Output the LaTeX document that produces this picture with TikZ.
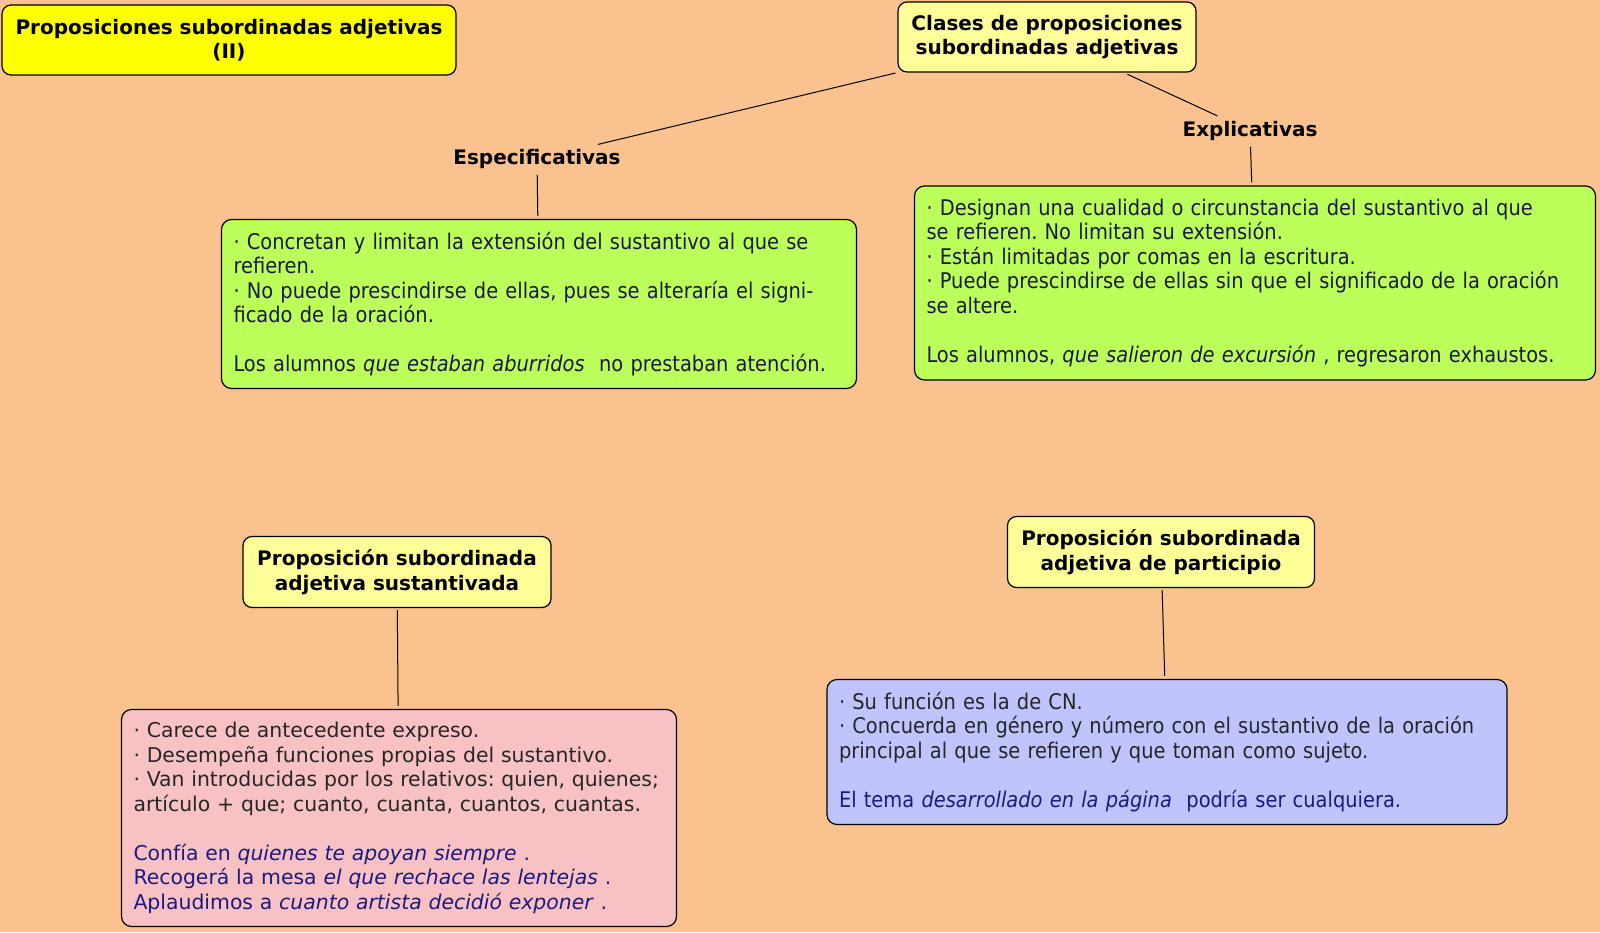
\documentclass[tikz,border=0pt]{standalone}
\usepackage{fontspec}
\setmainfont{DejaVu Sans}
\newfontfamily\narrowfont{DejaVu Sans Condensed}
\usetikzlibrary{positioning}
\frenchspacing
\hyphenpenalty=10000
\definecolor{MapPeach}{HTML}{FAC28E}
\definecolor{MapYellow}{HTML}{FFFF00}
\definecolor{MapPaleYellow}{HTML}{FFFF99}
\definecolor{MapLime}{HTML}{BDFF5A}
\definecolor{MapPink}{HTML}{F8C2C4}
\definecolor{MapBlue}{HTML}{BFC4FC}
\definecolor{MapNavy}{HTML}{1A1A80}
\definecolor{MapInk}{HTML}{1A1A40}

\begin{document}
\begin{tikzpicture}[x=1pt,y=-1pt,
 headbox/.style={draw=black,line width=1.2pt,rounded corners=9pt,fill=MapPaleYellow,align=center,inner sep=0pt,font=\bfseries\fontsize{20}{24.5}\selectfont},
 tagtext/.style={inner sep=4pt,font=\bfseries\fontsize{20}{24.5}\selectfont},
 notebox/.style={draw=black,line width=1.2pt,rounded corners=10pt,align=left,inner xsep=12pt,inner ysep=0pt},
 narrowtext/.style={font=\narrowfont\fontsize{21.6}{24.5}\selectfont},
 link/.style={line width=1pt,shorten <=2pt,shorten >=3pt}]
\fill[MapPeach] (0,0) rectangle (1600,932);
\useasboundingbox (0,0) rectangle (1600,932);
% headings
\node[headbox,fill=MapYellow,minimum width=454,minimum height=70] (title) at (229,40) {Proposiciones subordinadas adjetivas\\(II)};
\node[headbox,minimum width=298,minimum height=70] (clases) at (1047,37) {Clases de proposiciones\\subordinadas adjetivas};
\node[tagtext] (espec) at (537,159) {Especificativas};
\node[tagtext] (explic) at (1250,131) {Explicativas};
\node[headbox,minimum width=308,minimum height=71] (sustant) at (397,572) {Proposición subordinada\\adjetiva sustantivada};
\node[headbox,minimum width=307,minimum height=71] (particip) at (1161,552) {Proposición subordinada\\adjetiva de participio};
% notes
\node[notebox,narrowtext,fill=MapLime,text width=611,minimum height=169,text=MapInk] (especnote) at (539,304) {%
· Concretan y limitan la extensión del sustantivo al que se\\refieren.\\· No puede prescindirse de ellas, pues se alteraría el signi-\\ficado de la oración.\\[24.5pt]Los alumnos \textit{que estaban aburridos}~ no prestaban atención.};
\node[notebox,narrowtext,fill=MapLime,text width=657,minimum height=194,text=MapInk] (explicnote) at (1255,283) {%
· Designan una cualidad o circunstancia del sustantivo al que\\se refieren. No limitan su extensión.\\· Están limitadas por comas en la escritura.\\· Puede prescindirse de ellas sin que el significado de la oración\\se altere.\\[24.5pt]Los alumnos, \textit{que salieron de excursión} , regresaron exhaustos.};
\node[notebox,fill=MapPink,text width=531,minimum height=217,font=\fontsize{20.4}{24.5}\selectfont,text=black!85] (sustnote) at (399,818) {%
· Carece de antecedente expreso.\\· Desempeña funciones propias del sustantivo.\\· Van introducidas por los relativos: quien, quienes;\\artículo + que; cuanto, cuanta, cuantos, cuantas.\\[24.5pt]%
\textcolor{MapNavy}{Confía en \textit{quienes te apoyan siempre} .}\\\textcolor{MapNavy}{Recogerá la mesa \textit{el que rechace las lentejas} .}\\\textcolor{MapNavy}{Aplaudimos a \textit{cuanto artista decidió exponer} .}};
\node[notebox,narrowtext,fill=MapBlue,text width=656,minimum height=145,text=black!85] (partnote) at (1167,752) {%
· Su función es la de CN.\\· Concuerda en género y número con el sustantivo de la oración\\principal al que se refieren y que toman como sujeto.\\[24.5pt]%
\textcolor{MapNavy}{El tema \textit{desarrollado en la página}~ podría ser cualquiera.}};
% connectors
\draw[link] (clases) -- (espec);
\draw[link,shorten <=4pt] (clases) -- (explic);
\draw[link] (espec) -- (especnote);
\draw[link] (explic) -- (explicnote);
\draw[link] (sustant) -- (sustnote);
\draw[link] (particip) -- (partnote);
\end{tikzpicture}
\end{document}
